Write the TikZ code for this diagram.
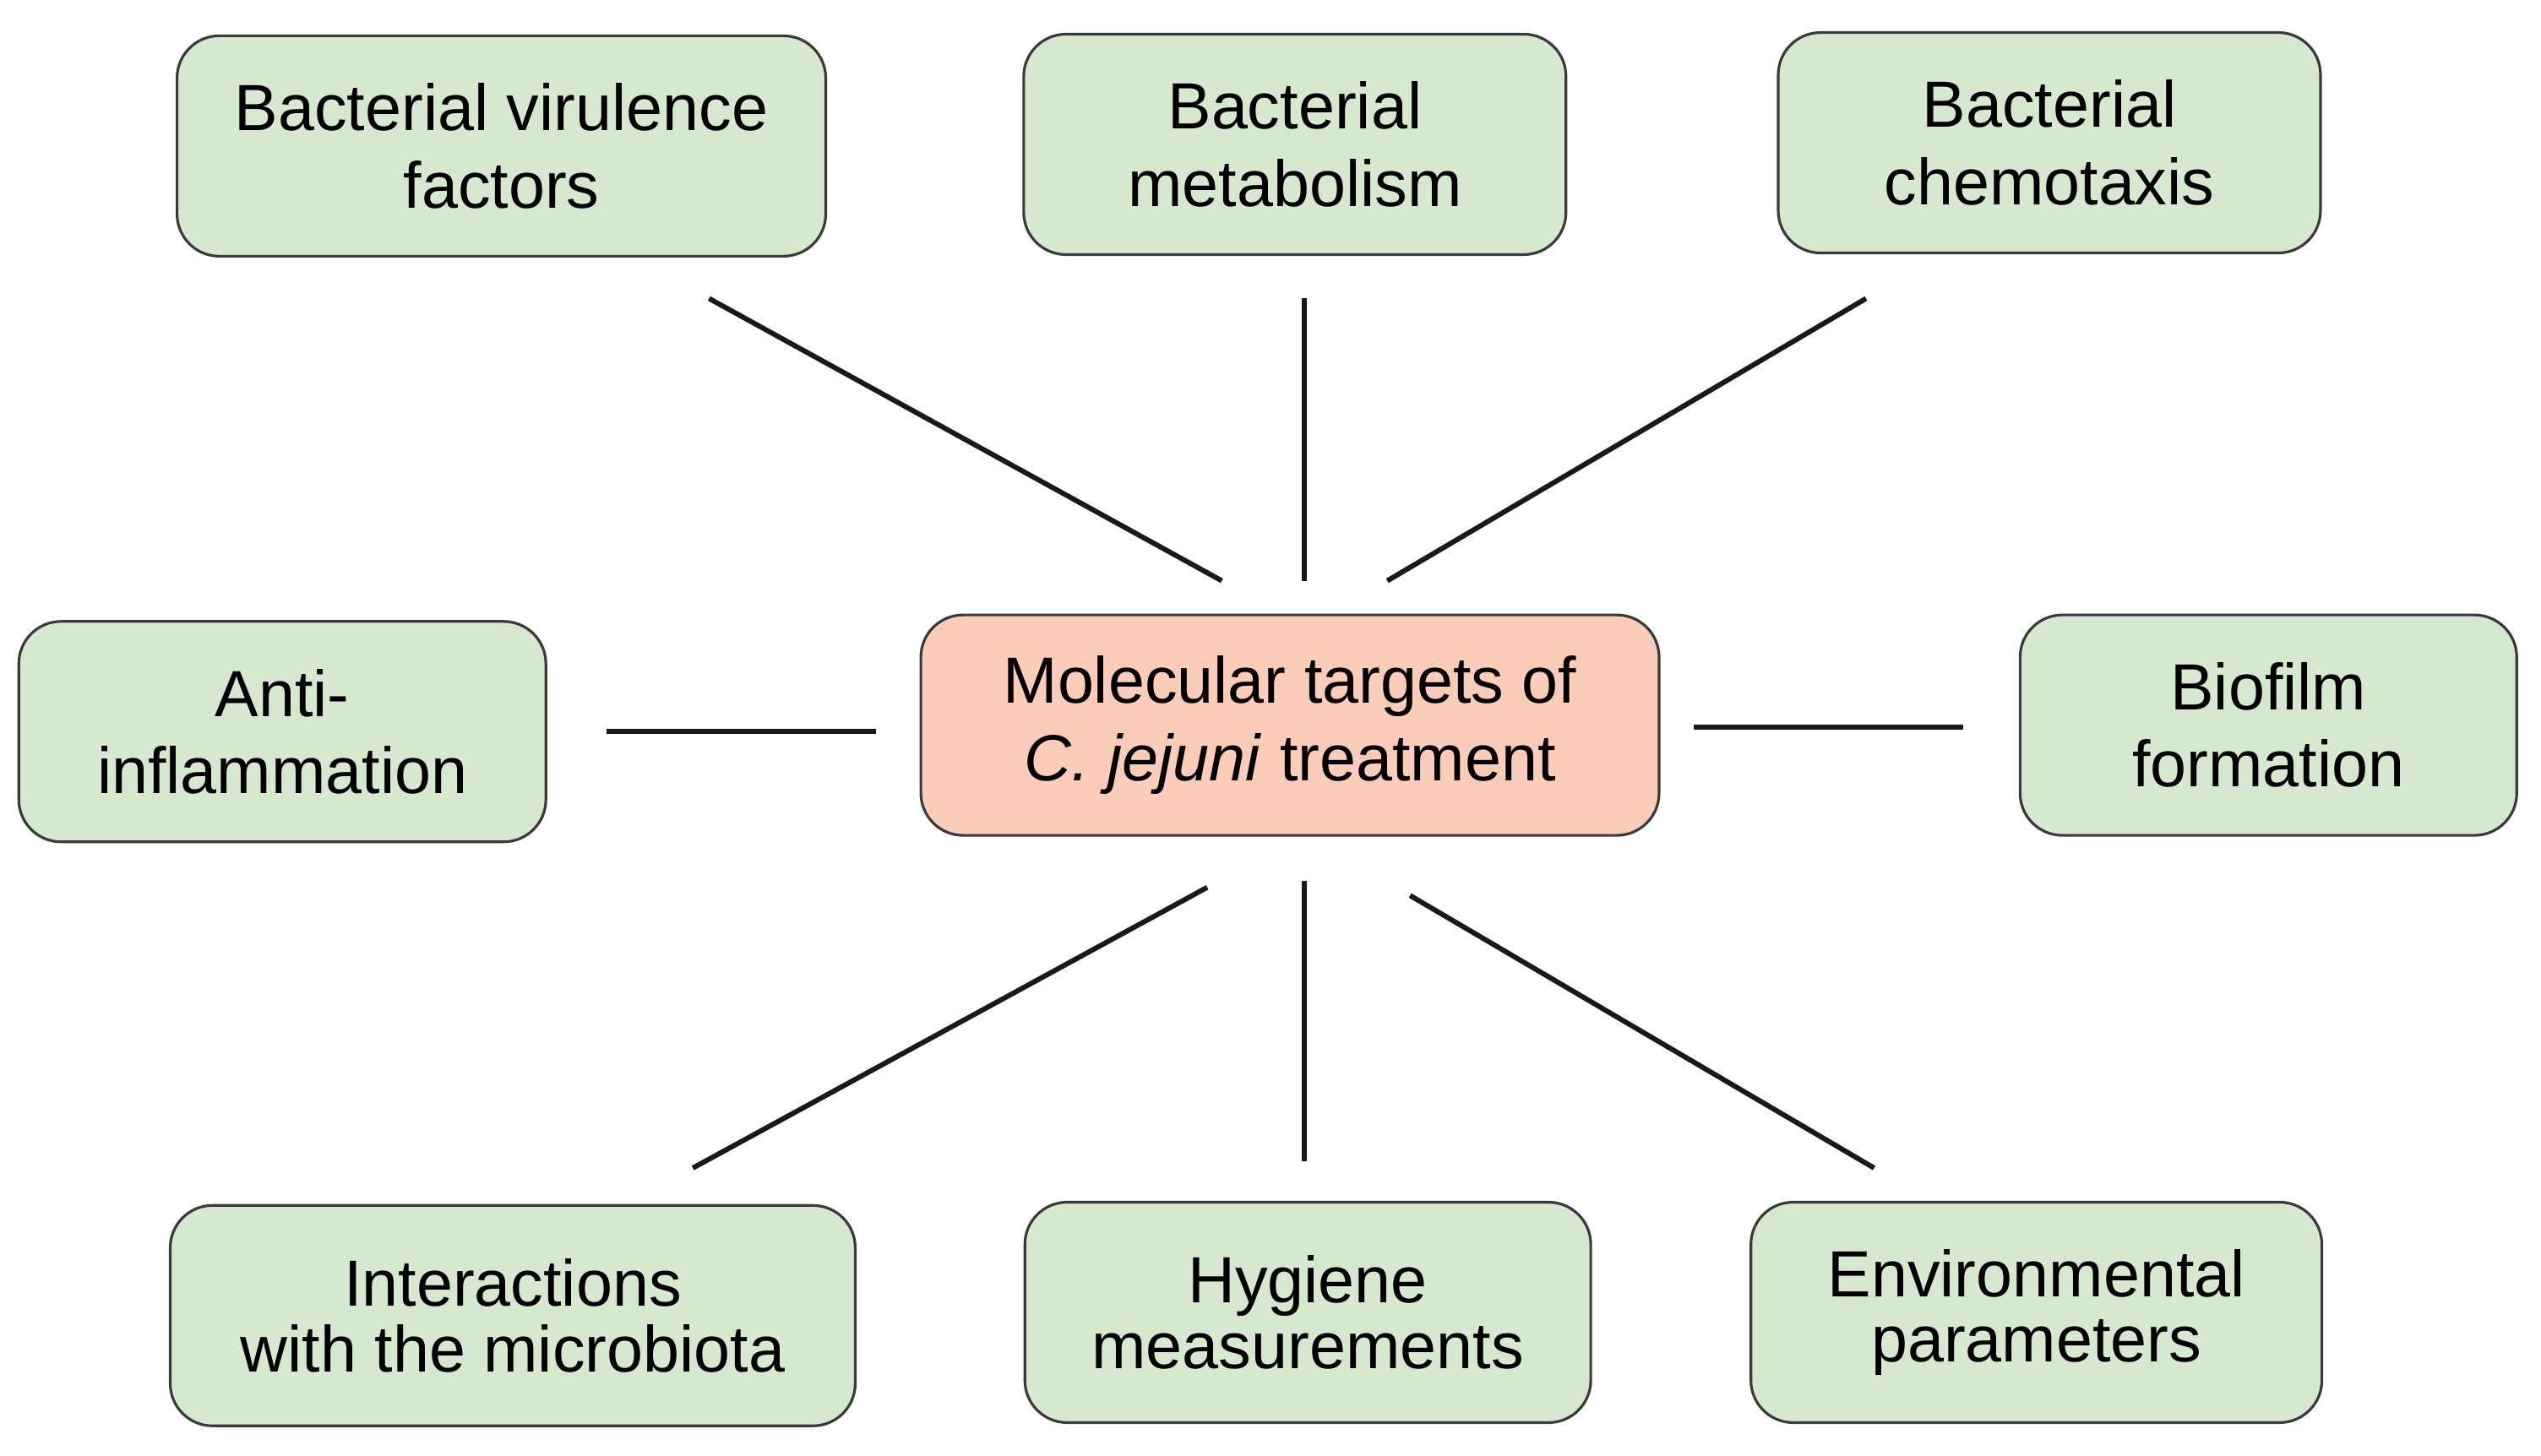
\documentclass[tikz,border=0pt]{standalone}
\usepackage{fontspec}
\setmainfont{Liberation Sans}
\usetikzlibrary{calc}
\definecolor{boxgreen}{HTML}{D6E9CF}
\definecolor{boxpink}{HTML}{FBCDB9}
\definecolor{boxline}{HTML}{3A3A3A}
\tikzset{
    my-box/.style={
        draw=boxline, line width=0.9pt, rounded corners=0.5cm, fill=boxgreen,
        align=center, inner sep=0pt, minimum height=2.61cm,
        font=\fontsize{22}{26}\selectfont
    },
    my-centre/.style={
        my-box, fill=boxpink
    },
    my-spoke/.style={
        line width=1.7pt, draw=black!90
    },
}
\begin{document}
\begin{tikzpicture}[x=0.01921cm, y=-0.01921cm]

        % BOUNDING BOX
        \useasboundingbox (0,0) rectangle (1566,897.5);

        % CENTRE
        \node[my-centre, minimum width=8.74cm] (CENTRE) at (795,447) {Molecular targets of\\\textit{C. jejuni} treatment};

        % OUTER BOXES
        \node[my-box, minimum width=7.68cm] (VIR)  at (309,90)   {Bacterial virulence\\factors};
        \node[my-box, minimum width=6.42cm] (MET)  at (798,89)   {Bacterial\\metabolism};
        \node[my-box, minimum width=6.42cm] (CHE)  at (1263,88)  {Bacterial\\chemotaxis};
        \node[my-box, minimum width=6.24cm] (ANTI) at (174,451)  {Anti-\\inflammation};
        \node[my-box, minimum width=5.88cm] (BIO)  at (1398,447) {Biofilm\\formation};
        \node[my-box, minimum width=8.11cm, font=\fontsize{22}{22}\selectfont] (INT)  at (316,811)  {Interactions\\with the microbiota};
        \node[my-box, minimum width=6.70cm, font=\fontsize{22}{22}\selectfont] (HYG)  at (806,809)  {Hygiene\\measurements};
        \node[my-box, minimum width=6.76cm, font=\fontsize{22}{22}\selectfont] (ENV)  at (1255,809) {Environmental\\parameters};

        % SPOKE END POINTS
        \coordinate (VIRA)  at (437,184);   \coordinate (VIRB)  at (753,358);
        \coordinate (META)  at (804,184);   \coordinate (METB)  at (804,358);
        \coordinate (CHEA)  at (1150,184);  \coordinate (CHEB)  at (855,358);
        \coordinate (ANTIA) at (374,451);   \coordinate (ANTIB) at (540,451);
        \coordinate (BIOA)  at (1210,448);  \coordinate (BIOB)  at (1044,448);
        \coordinate (INTA)  at (427,720);   \coordinate (INTB)  at (744,547);
        \coordinate (HYGA)  at (804,716);   \coordinate (HYGB)  at (804,543);
        \coordinate (ENVA)  at (1155,720);  \coordinate (ENVB)  at (869,552);

        % SPOKES
        \draw[my-spoke] (VIRA)  -- (VIRB);
        \draw[my-spoke] (META)  -- (METB);
        \draw[my-spoke] (CHEA)  -- (CHEB);
        \draw[my-spoke] (ANTIA) -- (ANTIB);
        \draw[my-spoke] (BIOA)  -- (BIOB);
        \draw[my-spoke] (INTA)  -- (INTB);
        \draw[my-spoke] (HYGA)  -- (HYGB);
        \draw[my-spoke] (ENVA)  -- (ENVB);

    \end{tikzpicture}
\end{document}
